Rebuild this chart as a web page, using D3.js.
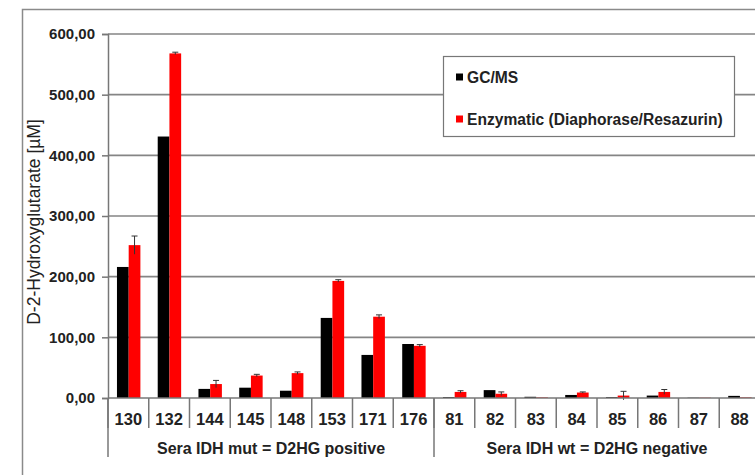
<!DOCTYPE html>
<html>
<head>
<meta charset="utf-8">
<script src="https://cdn.jsdelivr.net/npm/d3@7"></script>
<style>
  body { margin: 0; background: white; }
  text { font-family: "Liberation Sans", Arial, sans-serif; fill: #222; }
</style>
</head>
<body>
<div id="container"></div>
<script>
let w = 755;
let h = 475;

// data
let samples = ["130", "132", "144", "145", "148", "153", "171", "176", "81", "82", "83", "84", "85", "86", "87", "88"];
let groups = ["Sera IDH mut = D2HG positive", "Sera IDH wt = D2HG negative"];
let groupSizes = [8, 8];
let seriesNames = ["GC/MS", "Enzymatic (Diaphorase/Resazurin)"];
let seriesColors = ["#000000", "#ff0000"];
let gcms = [216, 431, 15, 17, 12, 132, 71, 89, 1.5, 13, 2, 5, 1.5, 4, 0.5, 3.5];
let enzymatic = [252, 568, 23, 37, 41, 193, 134, 86, 10, 7, 1, 9, 4, 10, 0.5, 1];
let enzymaticErr = [15, 2, 6, 2, 2, 2, 3, 2, 2, 3, 0, 1, 7, 4, 0, 0];
let yTicks = [0, 100, 200, 300, 400, 500, 600];

let viz = d3.select("#container").append("svg")
    .attr("width", w)
    .attr("height", h)
    .style("background-color", "white");

// outer chart frame (goes past the right/bottom edge of the crop)
viz.append("rect")
    .attr("x", 22.5).attr("y", 9.5)
    .attr("width", 800).attr("height", 500)
    .attr("fill", "none").attr("stroke", "#8a8a8a").attr("stroke-width", 1.5);

let plotLeft = 108;
let plotRight = 760;
let plotTop = 34;
let plotBottom = 398;

let xScale = d3.scaleBand().domain(samples).range([plotLeft, plotRight]).padding(0);
let bw = xScale.bandwidth();
let inner = d3.scaleBand().domain([0, 1]).range([bw * 0.22, bw * 0.795]).padding(0);
let yScale = d3.scaleLinear().domain([0, 600]).range([plotBottom, plotTop]);

// gridlines
viz.append("g").selectAll("line").data(yTicks.filter(d => d > 0)).enter().append("line")
    .attr("x1", plotLeft).attr("x2", plotRight)
    .attr("y1", d => yScale(d)).attr("y2", d => yScale(d))
    .attr("stroke", "#858585").attr("stroke-width", 1.6);

// y axis
let yAxis = d3.axisLeft(yScale).tickValues(yTicks).tickSize(6).tickPadding(7)
    .tickFormat(d => d3.format(".2f")(d).replace(".", ","));
let yAxisGroup = viz.append("g").attr("class", "yAxis")
    .attr("transform", "translate(" + plotLeft + ",0)")
    .call(yAxis);
yAxisGroup.select(".domain").attr("stroke", "#777").attr("stroke-width", 1.5);
yAxisGroup.selectAll(".tick line").attr("stroke", "#777").attr("stroke-width", 1.5);
yAxisGroup.selectAll("text").style("font-size", "15px").style("font-weight", "bold").attr("fill", "#222");

// y title
viz.append("text")
    .attr("transform", "translate(40," + 222 + ") rotate(-90)")
    .attr("text-anchor", "middle")
    .style("font-size", "17.5px")
    .text("D-2-Hydroxyglutarate [\u00b5M]");

// bars
let seriesData = [gcms, enzymatic];
seriesData.forEach(function(values, s) {
    viz.append("g").selectAll("rect").data(values).enter().append("rect")
        .attr("x", (d, i) => xScale(samples[i]) + inner(s))
        .attr("width", inner.bandwidth())
        .attr("y", d => yScale(d))
        .attr("height", d => plotBottom - yScale(d))
        .attr("fill", seriesColors[s]);
});

// error bars on the enzymatic series
let errG = viz.append("g");
enzymatic.forEach(function(v, i) {
    if (enzymaticErr[i] <= 0) return;
    let cx = xScale(samples[i]) + inner(1) + inner.bandwidth() / 2;
    errG.append("line")
        .attr("x1", cx).attr("x2", cx)
        .attr("y1", yScale(v - enzymaticErr[i])).attr("y2", yScale(v + enzymaticErr[i]))
        .attr("stroke", "#333").attr("stroke-width", 1);
    errG.append("line")
        .attr("x1", cx - 3).attr("x2", cx + 3)
        .attr("y1", yScale(v + enzymaticErr[i])).attr("y2", yScale(v + enzymaticErr[i]))
        .attr("stroke", "#333").attr("stroke-width", 1);
});

// x axis with category separators
let xAxisG = viz.append("g");
xAxisG.append("line")
    .attr("x1", plotLeft).attr("x2", plotRight)
    .attr("y1", plotBottom).attr("y2", plotBottom)
    .attr("stroke", "#777").attr("stroke-width", 1.5);
xAxisG.selectAll(".sep").data(samples).enter().append("line")
    .attr("x1", d => xScale(d)).attr("x2", d => xScale(d))
    .attr("y1", plotBottom).attr("y2", plotBottom + 30)
    .attr("stroke", "#777").attr("stroke-width", 1.5);
xAxisG.selectAll(".lab").data(samples).enter().append("text")
    .attr("x", d => xScale(d) + bw / 2)
    .attr("y", plotBottom + 27)
    .attr("text-anchor", "middle")
    .style("font-size", "16.5px").style("font-weight", "bold")
    .text(d => d);

// group separators and labels
let start = 0;
groups.forEach(function(g, k) {
    let x0 = xScale(samples[start]);
    let x1 = start + groupSizes[k] < samples.length ? xScale(samples[start + groupSizes[k]]) : plotRight;
    xAxisG.append("line")
        .attr("x1", x0).attr("x2", x0)
        .attr("y1", plotBottom).attr("y2", plotBottom + 59)
        .attr("stroke", "#777").attr("stroke-width", 1.5);
    xAxisG.append("text")
        .attr("x", (x0 + x1) / 2)
        .attr("y", plotBottom + 56)
        .attr("text-anchor", "middle")
        .style("font-size", "16px").style("font-weight", "bold")
        .text(g);
    start += groupSizes[k];
});

// legend
let legend = viz.append("g").attr("transform", "translate(443,56)");
legend.append("rect")
    .attr("x", 0.5).attr("y", 0.5).attr("width", 291).attr("height", 80)
    .attr("fill", "white").attr("stroke", "#777").attr("stroke-width", 1.2);
seriesNames.forEach(function(name, s) {
    let yy = 21 + s * 42;
    legend.append("rect")
        .attr("x", 13).attr("y", yy - 3.5).attr("width", 7).attr("height", 7)
        .attr("fill", seriesColors[s]);
    legend.append("text")
        .attr("x", 24).attr("y", yy + 5.5)
        .style("font-size", "15.6px").style("font-weight", "bold")
        .text(name);
});
</script>
</body>
</html>
